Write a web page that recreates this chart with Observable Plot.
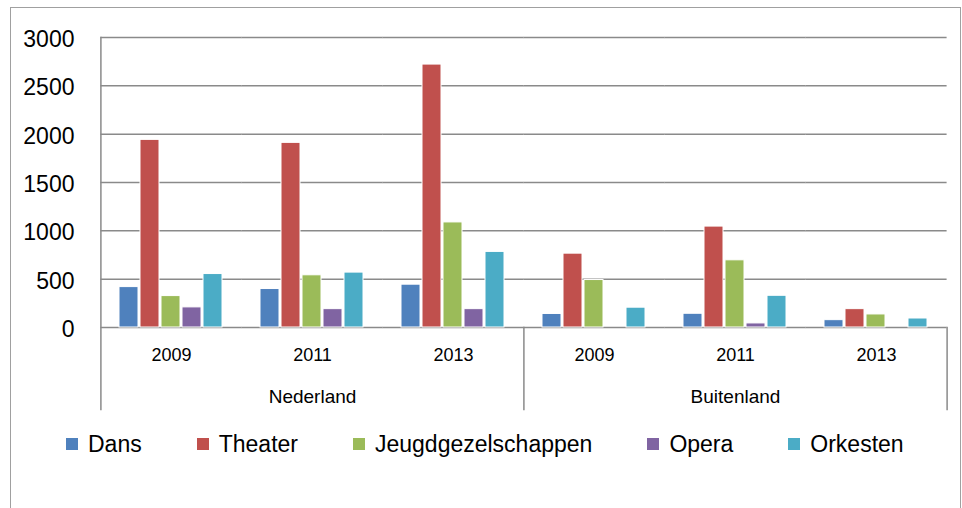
<!DOCTYPE html>
<html><head><meta charset="utf-8">
<script src="https://cdn.jsdelivr.net/npm/d3@7"></script>
<script src="https://cdn.jsdelivr.net/npm/@observablehq/plot@0.6"></script>
<style>
body{margin:0;background:#fff;font-family:"Liberation Sans",Arial,sans-serif;}
#wrap{position:relative;width:962px;height:508px;overflow:hidden;background:#fff;}
#border{position:absolute;left:10px;top:7px;width:951px;height:530px;border:1.5px solid #a0a0a0;box-sizing:border-box;}
#chart{position:absolute;left:0;top:0;}
#legend{position:absolute;left:66px;top:429px;display:flex;align-items:center;font-size:23px;color:#000;line-height:30px;}
.item{display:flex;align-items:center;margin-right:55px;}
.sw{width:12px;height:12px;margin-right:10px;}
</style></head><body>
<div id="wrap"><div id="border"></div><div id="chart"></div><div id="legend"></div></div>
<script>
const regions = ["Nederland", "Buitenland"];
const years = ["2009", "2011", "2013"];
const series = ["Dans", "Theater", "Jeugdgezelschappen", "Opera", "Orkesten"];
const colors = ["#4F81BD", "#C0504D", "#9BBB59", "#8064A2", "#4BACC6"];
const yTicks = [0, 500, 1000, 1500, 2000, 2500, 3000];
// values in order: Nederland 2009, 2011, 2013, Buitenland 2009, 2011, 2013
const dans = [418, 398, 443, 140, 142, 76];
const theater = [1941, 1910, 2720, 764, 1044, 190];
const jeugd = [325, 540, 1087, 491, 695, 135];
const opera = [208, 190, 190, 0, 42, 0];
const orkesten = [553, 568, 782, 205, 328, 93];

const seriesValues = [dans, theater, jeugd, opera, orkesten];
const keys = regions.flatMap(r => years.map(y => `${r} ${y}`));
const data = series.flatMap((s, i) => keys.map((k, j) => ({key: k, series: s, value: seriesValues[i][j]})));
const groupLabels = regions.map(r => ({region: r, key: `${r} ${years[1]}`}));
const grid = "#8a8a8a";
const lastKey = keys[keys.length - 1];
const firstOf = r => `${r} ${years[0]}`;

const chart = Plot.plot({
  width: 962, height: 508,
  marginLeft: 99, marginRight: 14, marginTop: 37, marginBottom: 181,
  style: {fontFamily: "'Liberation Sans', Arial, sans-serif", background: "transparent", color: "#000"},
  fx: {domain: keys, paddingInner: 0.234, paddingOuter: 0.117, axis: null},
  x: {domain: series, paddingInner: 0.08, paddingOuter: 0, axis: null},
  y: {domain: [0, 3000], axis: null},
  color: {domain: series, range: colors},
  marks: [
    Plot.ruleY(yTicks, {stroke: grid, strokeWidth: 1.5, insetLeft: -16.6, insetRight: -16.6}),
    Plot.barY(data.filter(d => d.value > 0), {fx: "key", x: "series", y: "value", fill: "series", stroke: "white", strokeWidth: 1}),
    Plot.axisFx({anchor: "bottom", tickSize: 0, tickPadding: 21, fontSize: 18, tickFormat: k => k.split(" ")[1], label: null}),
    Plot.axisY(yTicks, {anchor: "left", tickSize: 0, tickPadding: 43, fontSize: 23, dy: 2, tickFormat: d => String(d), label: null}),
    Plot.text(groupLabels, {fx: "key", text: "region", frameAnchor: "bottom", dy: 69, fontSize: 19, lineAnchor: "middle"}),
    Plot.frame({anchor: "left", fx: firstOf(regions[0]), insetLeft: -16.6, insetBottom: -82, stroke: grid, strokeWidth: 1.5}),
    Plot.frame({anchor: "left", fx: firstOf(regions[1]), insetLeft: -16.6, insetTop: 290, insetBottom: -82, stroke: grid, strokeWidth: 1.5}),
    Plot.frame({anchor: "right", fx: lastKey, insetRight: -16.6, insetTop: 290, insetBottom: -82, stroke: grid, strokeWidth: 1.5})
  ]
});
document.getElementById("chart").append(chart);

const legend = document.getElementById("legend");
series.forEach((s, i) => {
  const item = document.createElement("div");
  item.className = "item";
  const sw = document.createElement("span");
  sw.className = "sw";
  sw.style.background = colors[i];
  const t = document.createElement("span");
  t.textContent = s;
  item.append(sw, t);
  legend.append(item);
});
</script>
</body></html>
